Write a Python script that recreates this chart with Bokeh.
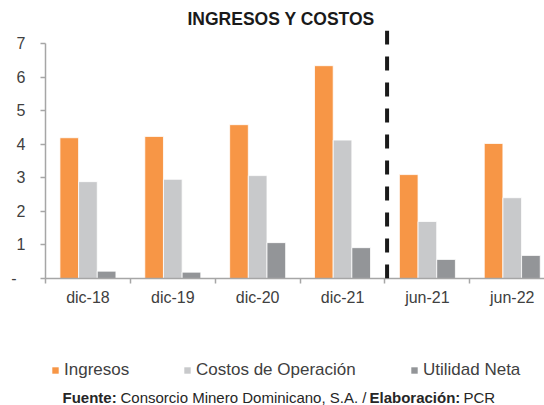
from bokeh.plotting import figure
from bokeh.layouts import column
from bokeh.models import Range1d, FixedTicker, Span, Label, Legend, LegendItem
from bokeh.embed import file_html
from bokeh.resources import INLINE

categories = ["dic-18", "dic-19", "dic-20", "dic-21", "jun-21", "jun-22"]
ingresos = [4.20, 4.24, 4.59, 6.35, 3.10, 4.03]
costos = [2.89, 2.96, 3.07, 4.13, 1.70, 2.41]
utilidad = [0.22, 0.19, 1.07, 0.92, 0.57, 0.69]
series_names = ["Ingresos", "Costos de Operación", "Utilidad Neta"]
y_ticks = [0, 1, 2, 3, 4, 5, 6, 7]
y_tick_labels = ["-\u2007", "1", "2", "3", "4", "5", "6", "7"]
title_text = "INGRESOS Y COSTOS"
footer_parts = [("Fuente:", "bold"), ("Consorcio Minero Dominicano, S.A. /", "normal"),
                ("Elaboración:", "bold"), ("PCR", "normal")]

FONT = "Liberation Sans"
colors = ["#F79646", "#C8C9CB", "#939598"]
TXT = "#404040"
AX = "#A6A6A6"

W = 544
H1 = 318
H2 = 87
LEFT = 45

p = figure(width=W, height=H1, output_backend="svg", toolbar_location=None,
           x_range=Range1d(0, 5.88), y_range=Range1d(0, 7.40),
           min_border_left=LEFT, min_border_right=0, min_border_top=30, min_border_bottom=40)
p.outline_line_color = None
p.xgrid.visible = False
p.ygrid.visible = False
p.border_fill_color = "white"

p.title.text = title_text
p.title.align = "left"
p.title.offset = 142
p.title.standoff = 4
p.title.text_font = FONT
p.title.text_font_size = "17.5px"
p.title.text_font_style = "bold"
p.title.text_color = "#1A1A1A"

centers = [i + 0.5 for i in range(len(categories))]
bw = 0.22
for k, (vals, c) in enumerate(zip([ingresos, costos, utilidad], colors)):
    xs = [x + (k - 1) * bw for x in centers]
    p.vbar(x=xs, top=vals, width=bw, bottom=0, fill_color=c, line_color="white", line_width=0.8)

# axes
xa = p.xaxis[0]
xa.ticker = FixedTicker(ticks=centers, minor_ticks=list(range(len(categories) + 1)))
xa.major_label_overrides = {c: lab for c, lab in zip(centers, categories)}
xa.major_tick_out = 0
xa.major_tick_in = 0
xa.minor_tick_out = 5
xa.minor_tick_in = 0
xa.minor_tick_line_color = AX
xa.minor_tick_line_width = 1.5
xa.axis_line_color = AX
xa.axis_line_width = 1.5
xa.major_label_text_font = FONT
xa.major_label_text_font_size = "16px"
xa.major_label_text_color = TXT
xa.major_label_standoff = 5

ya = p.yaxis[0]
ya.ticker = FixedTicker(ticks=y_ticks)
ya.bounds = (0, 7)
ya.major_label_overrides = {t: lab for t, lab in zip(y_ticks, y_tick_labels)}
ya.minor_tick_line_color = None
ya.major_tick_out = 5
ya.major_tick_in = 0
ya.major_tick_line_color = AX
ya.major_tick_line_width = 1.5
ya.axis_line_color = AX
ya.axis_line_width = 1.5
ya.major_label_text_font = FONT
ya.major_label_text_font_size = "16px"
ya.major_label_text_color = TXT
ya.major_label_standoff = 15

# dashed separator
p.add_layout(Span(location=4.025, dimension="height", line_color="#1A1A1A",
                  line_width=4, line_dash="14 12"))

# legend + footer panel (data units = page pixels)
p2 = figure(width=W, height=H2, output_backend="svg", toolbar_location=None,
            x_range=Range1d(LEFT, W), y_range=Range1d(0, H2),
            x_axis_location=None, y_axis_location=None,
            min_border_left=LEFT, min_border_right=0, min_border_top=0, min_border_bottom=0)
p2.outline_line_color = None
p2.xgrid.visible = False
p2.ygrid.visible = False

leg_x = [51, 183, 410]
for name, c, lx in zip(series_names, colors, leg_x):
    # zero-size swatch renderer used only for the legend glyph
    r = p2.vbar(x=[0], top=[0], bottom=[0], width=0, fill_color=c, line_color=None)
    lg = Legend(items=[LegendItem(label=name, renderers=[r])], location=(lx - LEFT, 25),
                orientation="horizontal", padding=0, margin=0, spacing=0,
                glyph_width=8, glyph_height=8, label_standoff=5,
                label_text_font=FONT, label_text_font_size="17px", label_text_color=TXT,
                border_line_alpha=0, background_fill_alpha=0)
    p2.add_layout(lg, "center")

foot_x = [62, 120, 369, 463]
for (txt, style), fx in zip(footer_parts, foot_x):
    p2.add_layout(Label(x=fx, y=8, text=txt,
                        text_font=FONT, text_font_size="15px", text_font_style=style,
                        text_color="#262626", text_baseline="alphabetic"))

layout = column(p, p2, spacing=0)
open("out.html", "w").write(file_html(layout, INLINE))
